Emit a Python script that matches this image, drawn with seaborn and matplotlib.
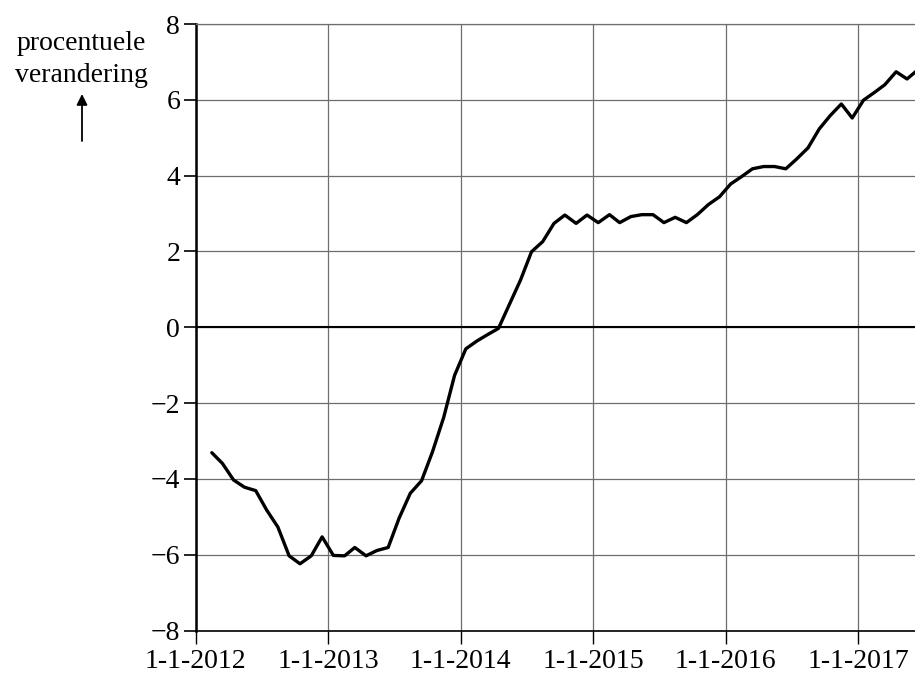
import matplotlib
matplotlib.use("Agg")
import matplotlib.pyplot as plt
import seaborn as sns
import pandas as pd

# ---- data (monthly percentage change) ----
start_month = "2012-02-01"
values = [
    -3.31, -3.59, -4.03, -4.22, -4.31, -4.82, -5.27, -6.03, -6.24, -6.03, -5.53,
    -6.02, -6.03, -5.81, -6.03, -5.89, -5.81, -5.04, -4.38, -4.05, -3.29, -2.38,
    -1.27, -0.57, -0.36, -0.20, -0.03, 0.60, 1.25, 1.99, 2.26, 2.74, 2.96,
    2.74, 2.96, 2.76, 2.97, 2.76, 2.92, 2.97, 2.97, 2.76, 2.90, 2.76, 2.97,
    3.24, 3.44, 3.78, 3.98, 4.18, 4.24, 4.24, 4.18, 4.44, 4.73, 5.23, 5.58,
    5.89, 5.52, 5.99, 6.20, 6.40, 6.74, 6.55, 6.80,
]
tick_years = [2012, 2013, 2014, 2015, 2016, 2017]
tick_labels = ["1-1-2012", "1-1-2013", "1-1-2014", "1-1-2015", "1-1-2016", "1-1-2017"]
y_ticks = [-8, -6, -4, -2, 0, 2, 4, 6, 8]
y_label_lines = ["procentuele", "verandering"]

dates = pd.date_range(start_month, periods=len(values), freq="MS") + pd.Timedelta(days=14)
df = pd.DataFrame({"datum": dates, "verandering": values})

sns.set_style("white")
plt.rcParams["font.family"] = ["Liberation Serif", "DejaVu Serif"]
plt.rcParams["text.color"] = "black"
plt.rcParams["xtick.color"] = "black"
plt.rcParams["ytick.color"] = "black"
plt.rcParams["xtick.labelcolor"] = "black"
plt.rcParams["ytick.labelcolor"] = "black"

W, H = 915, 680
fig = plt.figure(figsize=(W / 100, H / 100), dpi=100)
left, right, top, bottom = 195.5, 915, 24, 630.5
ax = fig.add_axes([left / W, 1 - bottom / H, (right - left) / W, (bottom - top) / H])

sns.lineplot(data=df, x="datum", y="verandering", ax=ax, color="black",
             linewidth=2.4, zorder=5)

ax.set_xlim(pd.Timestamp("2012-01-01"), pd.Timestamp("2017-06-06"))
ax.set_ylim(-8, 8)
ax.set_xticks([pd.Timestamp(f"{y}-01-01") for y in tick_years])
ax.set_xticklabels(tick_labels)
ax.set_yticks(y_ticks)
ax.set_yticklabels([f"{v}".replace("-", "\u2212") for v in y_ticks])
ax.set_xlabel("")
ax.set_ylabel("")

ax.grid(True, color="#6e6e6e", linewidth=0.9)
ax.axhline(0, color="black", linewidth=1.5, zorder=3)

ax.spines["right"].set_visible(False)
ax.spines["top"].set_color("#6e6e6e")
ax.spines["top"].set_linewidth(0.9)
ax.spines["left"].set_color("black")
ax.spines["left"].set_linewidth(1.8)
ax.spines["bottom"].set_color("black")
ax.spines["bottom"].set_linewidth(1.2)

ax.tick_params(axis="y", direction="out", length=9, width=1.2, colors="black",
               labelsize=20, pad=2, left=True)
ax.tick_params(axis="x", direction="out", length=9, width=1.0, colors="black",
               labelsize=20, pad=4, bottom=True)

fig.text(81 / W, 1 - 44 / H, y_label_lines[0], ha="center", va="center",
         fontsize=20, color="black")
fig.text(81 / W, 1 - 75 / H, y_label_lines[1], ha="center", va="center",
         fontsize=20, color="black")
ax.annotate("", xy=(82, H - 94), xytext=(82, H - 141), xycoords="figure pixels",
            textcoords="figure pixels",
            arrowprops=dict(arrowstyle="-|>", color="black", lw=1.3,
                            mutation_scale=16, shrinkA=0, shrinkB=0))

fig.savefig("out.png", dpi=100)
